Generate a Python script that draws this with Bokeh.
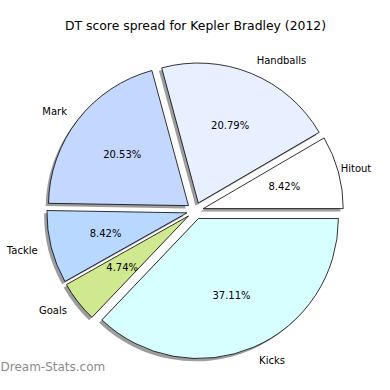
import math
from bokeh.plotting import figure
from bokeh.models import ColumnDataSource, Range1d
from bokeh.core.properties import value
from bokeh.embed import file_html
from bokeh.resources import INLINE

title = "DT score spread for Kepler Bradley (2012)"
categories = ["Hitout", "Handballs", "Mark", "Tackle", "Goals", "Kicks"]
shares = [8.42, 20.79, 20.53, 8.42, 4.74, 37.11]
colors = ["#ffffff", "#e8f0ff", "#c4d8ff", "#b8d8ff", "#d0e890", "#d8ffff"]
explode = [0.06, 0.06, 0.06, 0.06, 0.06, 0.06]
watermark = "Dream-Stats.com"

R = 1.0
PX = 140.0  # pixels per data unit
W, H = 374, 374
cx_px, cy_px = 194.6, 210.3

total = sum(shares)
starts, ends, xs, ys, lx, ly, px_, py_, aligns, pct = [], [], [], [], [], [], [], [], [], []
a = 0.0
right_limit = (W - 2 - cx_px) / PX
for s, e, cat in zip(shares, explode, categories):
    th1 = a
    th2 = a + 2 * math.pi * s / total
    mid = (th1 + th2) / 2
    x = e * R * math.cos(mid)
    y = e * R * math.sin(mid)
    starts.append(th1); ends.append(th2); xs.append(x); ys.append(y)
    tx = x + 1.1 * R * math.cos(mid)
    ty = y + 1.1 * R * math.sin(mid)
    if math.cos(mid) > 0:
        # keep the label inside the canvas: pull it in if it would overflow
        est_w = len(cat) * 5.3 / PX
        if tx + est_w > right_limit:
            tx = right_limit - est_w
    lx.append(tx); ly.append(ty)
    aligns.append("left" if math.cos(mid) > 0 else "right")
    px_.append(x + 0.6 * R * math.cos(mid)); py_.append(y + 0.6 * R * math.sin(mid))
    pct.append("%.2f%%" % s)
    a = th2

src = ColumnDataSource(dict(x=xs, y=ys, sx=[v - 0.02 for v in xs], sy=[v - 0.02 for v in ys],
                            start=starts, end=ends, color=colors, lx=lx, ly=ly, align=aligns,
                            px=px_, py=py_, pct=pct, cat=categories))

p = figure(width=W, height=H, output_backend="svg", toolbar_location=None,
           x_range=Range1d(-cx_px / PX, (W - cx_px) / PX),
           y_range=Range1d(-(H - cy_px) / PX, cy_px / PX),
           min_border=0, outline_line_color=None)
p.axis.visible = False
p.grid.visible = False
p.background_fill_color = "white"

p.wedge(x="sx", y="sy", radius=R, start_angle="start", end_angle="end", source=src,
        fill_color="#4d4d4d", fill_alpha=0.55, line_color=None)
p.wedge(x="x", y="y", radius=R, start_angle="start", end_angle="end", source=src,
        fill_color="color", line_color="black", line_width=0.8)

p.text(x="lx", y="ly", text="cat", source=src, text_align="align", text_baseline="middle",
       text_font=value("DejaVu Sans"), text_font_size="10px", text_color="black")
p.text(x="px", y="py", text="pct", source=src, text_align="center", text_baseline="middle",
       text_font=value("DejaVu Sans"), text_font_size="10px", text_color="black")

p.text(x=[(195 - cx_px) / PX], y=[(cy_px - 25) / PX], text=[title],
       text_align="center", text_baseline="middle",
       text_font=value("DejaVu Sans"), text_font_size="12.4px", text_color="black")
p.text(x=[(0 - cx_px) / PX], y=[(cy_px - 366) / PX], text=[watermark],
       text_align="left", text_baseline="middle",
       text_font=value("DejaVu Sans"), text_font_size="12px", text_font_style="normal",
       text_color="#8c8c8c")

open("out.html", "w").write(file_html(p, INLINE))
